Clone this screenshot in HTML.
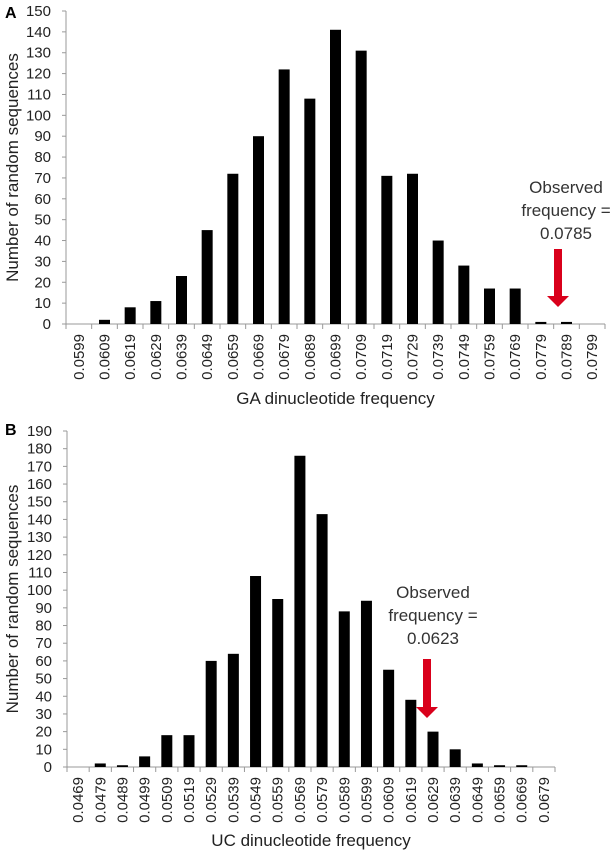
<!DOCTYPE html>
<html><head><meta charset="utf-8"><style>
body{margin:0;background:#fff;}
svg{display:block;font-family:"Liberation Sans",sans-serif;}
</style></head><body>
<svg id="s" width="614" height="853" viewBox="0 0 614 853">
<text x="5" y="18" font-size="16" font-weight="bold">A</text>
<text x="5" y="435" font-size="16" font-weight="bold">B</text>
<g id="ca"></g>
<g id="cb"></g>
</svg>
<script>
const catsA=["0.0599","0.0609","0.0619","0.0629","0.0639","0.0649","0.0659","0.0669","0.0679","0.0689","0.0699","0.0709","0.0719","0.0729","0.0739","0.0749","0.0759","0.0769","0.0779","0.0789","0.0799"];
const valsA=[0,2,8,11,23,45,72,90,122,108,141,131,71,72,40,28,17,17,1,1,0];
const ticksA=[0,10,20,30,40,50,60,70,80,90,100,110,120,130,140,150];
const catsB=["0.0469","0.0479","0.0489","0.0499","0.0509","0.0519","0.0529","0.0539","0.0549","0.0559","0.0569","0.0579","0.0589","0.0599","0.0609","0.0619","0.0629","0.0639","0.0649","0.0659","0.0669","0.0679"];
const valsB=[0,2,1,6,18,18,60,64,108,95,176,143,88,94,55,38,20,10,2,1,1,0];
const ticksB=[0,10,20,30,40,50,60,70,80,90,100,110,120,130,140,150,160,170,180,190];
const NS="http://www.w3.org/2000/svg";
function mk(p,t,a){const e=document.createElementNS(NS,t);for(const k in a)e.setAttribute(k,a[k]);p.appendChild(e);return e;}
function chart(g,cats,vals,ticks,o){
  const ymax=ticks[ticks.length-1];
  const y=v=>o.y0-(v/ymax)*(o.y0-o.yTop);
  const w=(o.x1-o.x0)/cats.length;
  const x=i=>o.x0+w*(i+0.5);
  ticks.forEach(t=>{
    const l=mk(g,'line',{x1:o.x0-4,x2:o.x0,y1:y(t),y2:y(t),stroke:'#999'});
    
    
    const tx=mk(g,'text',{x:o.x0-16+1,y:y(t)+5,'font-size':15,'text-anchor':'end',fill:'#222'});
    tx.textContent=t;
    
    
  });
  const ya=mk(g,'line',{x1:o.x0,x2:o.x0,y1:o.yTop,y2:o.y0,stroke:'#999'});
  
  
  const xa=mk(g,'line',{x1:o.x0,x2:o.x1,y1:o.y0,y2:o.y0,stroke:'#999'});
  
  
  for(let i=0;i<=cats.length;i++){
    const tk=mk(g,'line',{x1:o.x0+w*i,x2:o.x0+w*i,y1:o.y0,y2:o.y0+5,stroke:'#999'});
    
    
  }
  cats.forEach((c,i)=>{
    const h=o.y0-y(vals[i]);
    const r=mk(g,'rect',{x:x(i)-5.5,y:y(vals[i]),width:11,height:h,fill:'#000'});
    
    
    const t=mk(g,'text',{x:0,y:0,'font-size':15,'text-anchor':'end',fill:'#222',transform:`translate(${x(i)+5},${o.y0+10}) rotate(-90)`});
    t.textContent=c;
    
    
  });
  const xt=mk(g,'text',{x:(o.x0+o.x1)/2,y:o.xTitleY,'font-size':17,'text-anchor':'middle',fill:'#222'});
  xt.textContent=o.xTitle;
  
  
  const yt=mk(g,'text',{x:0,y:0,'font-size':17,'text-anchor':'middle',fill:'#222',transform:`translate(18,${(o.yTop+o.y0)/2}) rotate(-90)`});
  yt.textContent='Number of random sequences';
  
  
  o.note.forEach((s,k)=>{
    const n=mk(g,'text',{x:o.noteX,y:o.noteY+k*23,'font-size':17,'text-anchor':'middle',fill:'#333'});
    n.textContent=s;
    
    
  });
  const ar=mk(g,'path',{d:`M${o.ax-4},${o.aTop} h8 V${o.aTip-11} h7 L${o.ax},${o.aTip} L${o.ax-11},${o.aTip-11} h7 Z`,fill:'#d9001b'});
  
  
}
chart(document.getElementById('ca'),catsA,valsA,ticksA,{x0:66,x1:605,y0:324,yTop:11,xTitle:'GA dinucleotide frequency',xTitleY:404,note:['Observed','frequency =','0.0785'],noteX:566,noteY:193,ax:558,aTop:249,aTip:307});
chart(document.getElementById('cb'),catsB,valsB,ticksB,{x0:67,x1:555,y0:767,yTop:431,xTitle:'UC dinucleotide frequency',xTitleY:846,note:['Observed','frequency =','0.0623'],noteX:433,noteY:598,ax:427,aTop:659,aTip:718});
</script>
</body></html>
